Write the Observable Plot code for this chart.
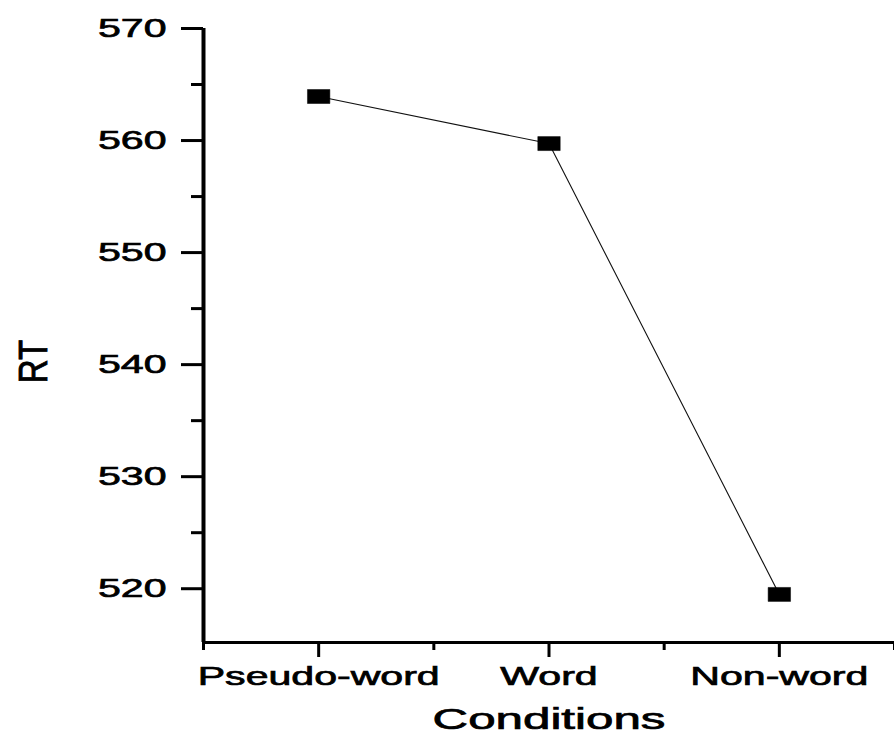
<!DOCTYPE html>
<html><head><meta charset="utf-8">
<script src="https://cdn.jsdelivr.net/npm/d3@7"></script>
<script src="https://cdn.jsdelivr.net/npm/@observablehq/plot@0.6"></script>
<style>body{margin:0;background:#fff;}</style>
</head><body><div id="chart"></div>
<script>
const conditions = ["Pseudo-word", "Word", "Non-word"];
const rt = [563.93, 559.73, 519.49];
const yTicks = [520, 530, 540, 550, 560, 570];
const yMinorTicks = [525, 535, 545, 555, 565];
const xTicks = [0, 1, 2];
const xMinorTicks = [-0.5, 0.5, 1.5, 2.5];
const yDomain = [515.2, 570];
const xDomain = [-0.5, 2.5];

const data = conditions.map((c, i) => ({i, condition: c, rt: rt[i]}));

const wideBox = {draw(ctx, size) { const r = Math.sqrt(size / Math.PI); ctx.rect(-1.6 * r, -r, 3.2 * r, 2 * r); }};

const chart = Plot.plot({
  width: 894, height: 735,
  marginLeft: 203, marginRight: 0, marginTop: 28, marginBottom: 93,
  style: {fontFamily: "'Liberation Sans', Arial, sans-serif", fontSize: "26px", color: "#000", background: "#fff"},
  x: {type: "linear", domain: xDomain},
  y: {domain: yDomain},
  marks: [
    Plot.ruleY([yDomain[0]], {stroke: "#000", strokeWidth: 3}),
    Plot.ruleX([xDomain[0]], {y1: yDomain[0], y2: yDomain[1], stroke: "#000", strokeWidth: 4}),
    Plot.axisY(yTicks, {tickSize: 22, tickPadding: 15, strokeWidth: 3, label: "RT", labelArrow: "none", labelAnchor: "center", labelOffset: 185}),
    Plot.axisY(yMinorTicks, {tickSize: 12, strokeWidth: 3, tickFormat: () => "", label: null}),
    Plot.axisX(xTicks, {tickSize: 15, tickPadding: 9, strokeWidth: 3, tickFormat: i => conditions[i], label: "Conditions", labelArrow: "none", labelAnchor: "center", labelOffset: 86}),
    Plot.axisX(xMinorTicks, {tickSize: 8, strokeWidth: 3, tickFormat: () => "", label: null}),
    Plot.line(data, {x: "i", y: "rt", stroke: "#111", strokeWidth: 1.1}),
    Plot.dot(data, {x: "i", y: "rt", symbol: wideBox, r: 7, fill: "#000", stroke: "#000", strokeWidth: 0.5})
  ]
});

function stretch(t, sx, sy, shift = "") {
  const tr = t.getAttribute("transform") || "";
  const x = parseFloat(t.getAttribute("x")) || 0;
  const y = parseFloat(t.getAttribute("y")) || 0;
  t.setAttribute("transform", `${tr} ${shift} translate(${x},${y}) scale(${sx},${sy}) translate(${-x},${-y})`);
  t.setAttribute("stroke", "#000");
  t.setAttribute("stroke-width", "0.7");
}
function stripArrow(t) {
  t.querySelectorAll("tspan").forEach(s => { s.textContent = s.textContent.replace(/[\u2190-\u2193]/g, "").trim(); });
  if (!t.querySelector("tspan")) t.textContent = t.textContent.replace(/[\u2190-\u2193]/g, "").trim();
}
chart.querySelectorAll('g[aria-label="y-axis tick label"] text, g[aria-label="x-axis tick label"] text').forEach(t => stretch(t, 1.58, 1));
chart.querySelectorAll('g[aria-label="x-axis label"] text').forEach(t => { stripArrow(t); t.setAttribute("font-size", "29"); stretch(t, 1.7, 1); });
chart.querySelectorAll('g[aria-label="y-axis label"] text').forEach(t => { stripArrow(t); t.setAttribute("font-size", "33"); stretch(t, 1, 1.23, "translate(-26,0)"); });
document.getElementById("chart").appendChild(chart);
</script>
</body></html>
